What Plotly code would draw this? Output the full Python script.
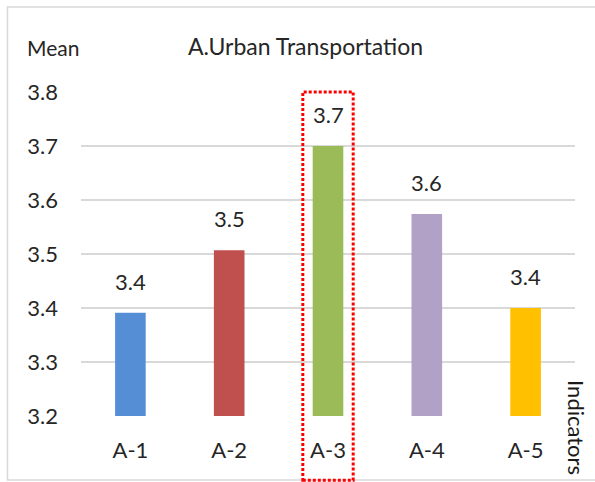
import plotly.graph_objects as go

# Mean score per urban-transportation indicator
categories = ["A-1", "A-2", "A-3", "A-4", "A-5"]
means = [3.391, 3.507, 3.700, 3.574, 3.400]
bar_colors = ["#558ED5", "#C0504D", "#9BBB59", "#B2A1C7", "#FFC000"]
y_ticks = [3.2, 3.3, 3.4, 3.5, 3.6, 3.7, 3.8]
highlight = "A-3"

FONT = "Lato"
TEXT = "#262626"
GRID = "#D9D9D9"

fig = go.Figure()
fig.add_trace(go.Bar(
    x=categories,
    y=means,
    marker=dict(color=bar_colors, line=dict(width=0)),
    width=0.31,
    hoverinfo="x+y",
))

# value labels above each bar, rounded to one decimal
for cat, val in zip(categories, means):
    fig.add_annotation(
        x=cat, y=val, xref="x", yref="y",
        text=f"{val:.1f}", showarrow=False,
        yanchor="bottom", yshift=16,
        font=dict(family=FONT, size=22, color=TEXT),
    )

# dotted frame around the highlighted indicator
hi = categories.index(highlight)
fig.add_shape(
    type="rect", xref="x", yref="paper",
    x0=hi - 0.255, x1=hi + 0.255, y0=-0.198, y1=1.0,
    line=dict(color="#FF0000", width=3, dash="3px,2px"),
    layer="above",
)

# chart frame
fig.add_shape(
    type="rect", xref="paper", yref="paper",
    x0=-0.1488, x1=1.06, y0=-0.1975, y1=1.2623,
    line=dict(color=GRID, width=1.5),
    layer="below",
)

fig.add_annotation(
    x=-0.113, y=1.136, xref="paper", yref="paper",
    text="Mean", showarrow=False, xanchor="left", yanchor="middle",
    font=dict(family=FONT, size=21, color=TEXT),
)
fig.add_annotation(
    x=0.455, y=1.142, xref="paper", yref="paper",
    text="A.Urban Transportation", showarrow=False,
    xanchor="center", yanchor="middle",
    font=dict(family=FONT, size=23, color=TEXT),
)
fig.add_annotation(
    x=1.003, y=0.117, xref="paper", yref="paper",
    text="Indicators", showarrow=False, textangle=90,
    xanchor="center", yanchor="top",
    font=dict(family=FONT, size=22, color="#1a1a1a"),
)

fig.update_layout(
    width=595, height=482,
    margin=dict(l=81, r=20, t=92, b=66),
    paper_bgcolor="white", plot_bgcolor="white",
    showlegend=False,
)
fig.update_xaxes(
    type="category", categoryorder="array", categoryarray=categories,
    showgrid=False, showline=False, zeroline=False,
    ticks="", ticklabelstandoff=19,
    tickfont=dict(family=FONT, size=22, color=TEXT),
)
fig.update_yaxes(
    range=[3.2, 3.8], tickvals=y_ticks,
    ticktext=[f"{v:.1f}" for v in y_ticks],
    showgrid=True, gridcolor=GRID, gridwidth=2,
    zeroline=False, showline=False, ticks="",
    ticklabelstandoff=22,
    tickfont=dict(family=FONT, size=22, color=TEXT),
)

fig.write_html("out.html")
